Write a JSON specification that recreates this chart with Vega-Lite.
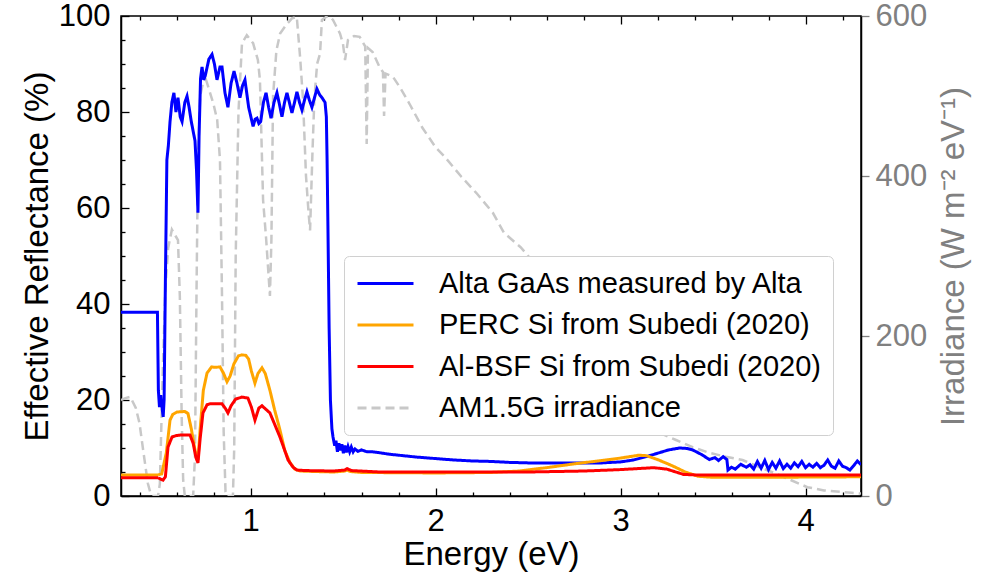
{
  "$schema": "https://vega.github.io/schema/vega-lite/v6.json",
  "autosize": {"type": "none"},
  "padding": {"left": 121, "top": 16, "right": 122, "bottom": 87},
  "width": 740,
  "height": 480,
  "config": {
    "font": "Liberation Sans",
    "view": {"stroke": "black", "strokeWidth": 1.5},
    "axis": {"grid": false, "domainColor": "black", "domainWidth": 1.5, "tickColor": "black", "tickWidth": 1.3, "labelFont": "Liberation Sans", "titleFont": "Liberation Sans", "labelFontSize": 31, "titleFontSize": 33, "titleFontWeight": "normal", "labelColor": "black", "titleColor": "black"}
  },
  "datasets": {
    "refl": [
      {"series": "Alta GaAs measured by Alta", "energy": 0.3, "r": 38.3},
      {"series": "Alta GaAs measured by Alta", "energy": 0.497, "r": 38.3},
      {"series": "Alta GaAs measured by Alta", "energy": 0.502, "r": 22},
      {"series": "Alta GaAs measured by Alta", "energy": 0.508, "r": 18.5},
      {"series": "Alta GaAs measured by Alta", "energy": 0.514, "r": 21},
      {"series": "Alta GaAs measured by Alta", "energy": 0.52, "r": 19},
      {"series": "Alta GaAs measured by Alta", "energy": 0.528, "r": 16.5},
      {"series": "Alta GaAs measured by Alta", "energy": 0.533, "r": 20},
      {"series": "Alta GaAs measured by Alta", "energy": 0.54, "r": 45},
      {"series": "Alta GaAs measured by Alta", "energy": 0.548, "r": 70},
      {"series": "Alta GaAs measured by Alta", "energy": 0.556, "r": 73},
      {"series": "Alta GaAs measured by Alta", "energy": 0.565, "r": 78},
      {"series": "Alta GaAs measured by Alta", "energy": 0.575, "r": 82},
      {"series": "Alta GaAs measured by Alta", "energy": 0.586, "r": 84},
      {"series": "Alta GaAs measured by Alta", "energy": 0.597, "r": 80},
      {"series": "Alta GaAs measured by Alta", "energy": 0.608, "r": 83},
      {"series": "Alta GaAs measured by Alta", "energy": 0.62, "r": 79},
      {"series": "Alta GaAs measured by Alta", "energy": 0.63, "r": 78},
      {"series": "Alta GaAs measured by Alta", "energy": 0.645, "r": 82},
      {"series": "Alta GaAs measured by Alta", "energy": 0.657, "r": 83.3},
      {"series": "Alta GaAs measured by Alta", "energy": 0.668, "r": 81},
      {"series": "Alta GaAs measured by Alta", "energy": 0.68, "r": 78},
      {"series": "Alta GaAs measured by Alta", "energy": 0.69, "r": 76},
      {"series": "Alta GaAs measured by Alta", "energy": 0.7, "r": 74},
      {"series": "Alta GaAs measured by Alta", "energy": 0.708, "r": 68},
      {"series": "Alta GaAs measured by Alta", "energy": 0.716, "r": 59},
      {"series": "Alta GaAs measured by Alta", "energy": 0.722, "r": 75},
      {"series": "Alta GaAs measured by Alta", "energy": 0.73, "r": 87},
      {"series": "Alta GaAs measured by Alta", "energy": 0.738, "r": 89.4},
      {"series": "Alta GaAs measured by Alta", "energy": 0.747, "r": 86.7},
      {"series": "Alta GaAs measured by Alta", "energy": 0.755, "r": 87.5},
      {"series": "Alta GaAs measured by Alta", "energy": 0.775, "r": 91},
      {"series": "Alta GaAs measured by Alta", "energy": 0.792, "r": 92},
      {"series": "Alta GaAs measured by Alta", "energy": 0.805, "r": 90},
      {"series": "Alta GaAs measured by Alta", "energy": 0.819, "r": 86.7},
      {"series": "Alta GaAs measured by Alta", "energy": 0.835, "r": 89.4},
      {"series": "Alta GaAs measured by Alta", "energy": 0.846, "r": 89.4},
      {"series": "Alta GaAs measured by Alta", "energy": 0.862, "r": 84},
      {"series": "Alta GaAs measured by Alta", "energy": 0.878, "r": 81},
      {"series": "Alta GaAs measured by Alta", "energy": 0.895, "r": 86},
      {"series": "Alta GaAs measured by Alta", "energy": 0.911, "r": 88.5},
      {"series": "Alta GaAs measured by Alta", "energy": 0.927, "r": 86},
      {"series": "Alta GaAs measured by Alta", "energy": 0.943, "r": 83},
      {"series": "Alta GaAs measured by Alta", "energy": 0.957, "r": 85.5},
      {"series": "Alta GaAs measured by Alta", "energy": 0.97, "r": 86.7},
      {"series": "Alta GaAs measured by Alta", "energy": 0.99, "r": 81},
      {"series": "Alta GaAs measured by Alta", "energy": 1.014, "r": 77},
      {"series": "Alta GaAs measured by Alta", "energy": 1.025, "r": 78.5},
      {"series": "Alta GaAs measured by Alta", "energy": 1.035, "r": 78.7},
      {"series": "Alta GaAs measured by Alta", "energy": 1.045, "r": 77.6},
      {"series": "Alta GaAs measured by Alta", "energy": 1.055, "r": 78},
      {"series": "Alta GaAs measured by Alta", "energy": 1.07, "r": 82},
      {"series": "Alta GaAs measured by Alta", "energy": 1.084, "r": 84},
      {"series": "Alta GaAs measured by Alta", "energy": 1.098, "r": 81},
      {"series": "Alta GaAs measured by Alta", "energy": 1.111, "r": 78.7},
      {"series": "Alta GaAs measured by Alta", "energy": 1.127, "r": 82},
      {"series": "Alta GaAs measured by Alta", "energy": 1.143, "r": 84},
      {"series": "Alta GaAs measured by Alta", "energy": 1.157, "r": 81.5},
      {"series": "Alta GaAs measured by Alta", "energy": 1.17, "r": 79},
      {"series": "Alta GaAs measured by Alta", "energy": 1.184, "r": 82},
      {"series": "Alta GaAs measured by Alta", "energy": 1.197, "r": 84},
      {"series": "Alta GaAs measured by Alta", "energy": 1.21, "r": 82},
      {"series": "Alta GaAs measured by Alta", "energy": 1.224, "r": 79.8},
      {"series": "Alta GaAs measured by Alta", "energy": 1.238, "r": 82},
      {"series": "Alta GaAs measured by Alta", "energy": 1.251, "r": 84.2},
      {"series": "Alta GaAs measured by Alta", "energy": 1.265, "r": 82},
      {"series": "Alta GaAs measured by Alta", "energy": 1.278, "r": 80.4},
      {"series": "Alta GaAs measured by Alta", "energy": 1.292, "r": 82.5},
      {"series": "Alta GaAs measured by Alta", "energy": 1.305, "r": 84.2},
      {"series": "Alta GaAs measured by Alta", "energy": 1.318, "r": 82.5},
      {"series": "Alta GaAs measured by Alta", "energy": 1.332, "r": 81},
      {"series": "Alta GaAs measured by Alta", "energy": 1.346, "r": 83},
      {"series": "Alta GaAs measured by Alta", "energy": 1.359, "r": 84.8},
      {"series": "Alta GaAs measured by Alta", "energy": 1.375, "r": 83.5},
      {"series": "Alta GaAs measured by Alta", "energy": 1.386, "r": 83},
      {"series": "Alta GaAs measured by Alta", "energy": 1.403, "r": 82},
      {"series": "Alta GaAs measured by Alta", "energy": 1.41, "r": 79},
      {"series": "Alta GaAs measured by Alta", "energy": 1.414, "r": 70},
      {"series": "Alta GaAs measured by Alta", "energy": 1.419, "r": 54.8},
      {"series": "Alta GaAs measured by Alta", "energy": 1.425, "r": 35},
      {"series": "Alta GaAs measured by Alta", "energy": 1.432, "r": 20},
      {"series": "Alta GaAs measured by Alta", "energy": 1.44, "r": 14},
      {"series": "Alta GaAs measured by Alta", "energy": 1.446, "r": 12.3},
      {"series": "Alta GaAs measured by Alta", "energy": 1.455, "r": 10.5},
      {"series": "Alta GaAs measured by Alta", "energy": 1.462, "r": 11.5},
      {"series": "Alta GaAs measured by Alta", "energy": 1.47, "r": 9.2},
      {"series": "Alta GaAs measured by Alta", "energy": 1.478, "r": 11},
      {"series": "Alta GaAs measured by Alta", "energy": 1.486, "r": 9.5},
      {"series": "Alta GaAs measured by Alta", "energy": 1.494, "r": 10.8},
      {"series": "Alta GaAs measured by Alta", "energy": 1.502, "r": 8.9},
      {"series": "Alta GaAs measured by Alta", "energy": 1.51, "r": 10.5},
      {"series": "Alta GaAs measured by Alta", "energy": 1.518, "r": 9.1},
      {"series": "Alta GaAs measured by Alta", "energy": 1.527, "r": 10.3},
      {"series": "Alta GaAs measured by Alta", "energy": 1.536, "r": 9.2},
      {"series": "Alta GaAs measured by Alta", "energy": 1.545, "r": 10.2},
      {"series": "Alta GaAs measured by Alta", "energy": 1.555, "r": 9.2},
      {"series": "Alta GaAs measured by Alta", "energy": 1.565, "r": 9.8},
      {"series": "Alta GaAs measured by Alta", "energy": 1.58, "r": 9.3},
      {"series": "Alta GaAs measured by Alta", "energy": 1.6, "r": 9.6},
      {"series": "Alta GaAs measured by Alta", "energy": 1.63, "r": 9.2},
      {"series": "Alta GaAs measured by Alta", "energy": 1.66, "r": 9.2},
      {"series": "Alta GaAs measured by Alta", "energy": 1.7, "r": 9.0},
      {"series": "Alta GaAs measured by Alta", "energy": 1.75, "r": 8.7},
      {"series": "Alta GaAs measured by Alta", "energy": 1.8, "r": 8.5},
      {"series": "Alta GaAs measured by Alta", "energy": 1.9, "r": 8.1},
      {"series": "Alta GaAs measured by Alta", "energy": 2.0, "r": 7.8},
      {"series": "Alta GaAs measured by Alta", "energy": 2.1, "r": 7.5},
      {"series": "Alta GaAs measured by Alta", "energy": 2.2, "r": 7.3},
      {"series": "Alta GaAs measured by Alta", "energy": 2.3, "r": 7.2},
      {"series": "Alta GaAs measured by Alta", "energy": 2.4, "r": 7.0},
      {"series": "Alta GaAs measured by Alta", "energy": 2.5, "r": 6.9},
      {"series": "Alta GaAs measured by Alta", "energy": 2.7, "r": 6.9},
      {"series": "Alta GaAs measured by Alta", "energy": 2.9, "r": 6.9},
      {"series": "Alta GaAs measured by Alta", "energy": 3.0, "r": 7.1},
      {"series": "Alta GaAs measured by Alta", "energy": 3.07, "r": 7.5},
      {"series": "Alta GaAs measured by Alta", "energy": 3.14, "r": 8.2},
      {"series": "Alta GaAs measured by Alta", "energy": 3.2, "r": 8.9},
      {"series": "Alta GaAs measured by Alta", "energy": 3.26, "r": 9.6},
      {"series": "Alta GaAs measured by Alta", "energy": 3.32, "r": 10.0},
      {"series": "Alta GaAs measured by Alta", "energy": 3.36, "r": 9.9},
      {"series": "Alta GaAs measured by Alta", "energy": 3.39, "r": 9.6},
      {"series": "Alta GaAs measured by Alta", "energy": 3.44, "r": 8.6},
      {"series": "Alta GaAs measured by Alta", "energy": 3.48, "r": 7.6},
      {"series": "Alta GaAs measured by Alta", "energy": 3.51, "r": 8.0},
      {"series": "Alta GaAs measured by Alta", "energy": 3.53, "r": 7.4},
      {"series": "Alta GaAs measured by Alta", "energy": 3.555, "r": 8.2},
      {"series": "Alta GaAs measured by Alta", "energy": 3.575, "r": 7.6},
      {"series": "Alta GaAs measured by Alta", "energy": 3.581, "r": 5.4},
      {"series": "Alta GaAs measured by Alta", "energy": 3.6, "r": 6.0},
      {"series": "Alta GaAs measured by Alta", "energy": 3.62, "r": 5.6},
      {"series": "Alta GaAs measured by Alta", "energy": 3.65, "r": 6.6},
      {"series": "Alta GaAs measured by Alta", "energy": 3.68, "r": 6.0},
      {"series": "Alta GaAs measured by Alta", "energy": 3.7, "r": 6.5},
      {"series": "Alta GaAs measured by Alta", "energy": 3.72, "r": 5.6},
      {"series": "Alta GaAs measured by Alta", "energy": 3.74, "r": 7.2},
      {"series": "Alta GaAs measured by Alta", "energy": 3.76, "r": 5.8},
      {"series": "Alta GaAs measured by Alta", "energy": 3.78, "r": 7.4},
      {"series": "Alta GaAs measured by Alta", "energy": 3.8, "r": 5.5},
      {"series": "Alta GaAs measured by Alta", "energy": 3.82, "r": 7.0},
      {"series": "Alta GaAs measured by Alta", "energy": 3.84, "r": 5.8},
      {"series": "Alta GaAs measured by Alta", "energy": 3.86, "r": 7.3},
      {"series": "Alta GaAs measured by Alta", "energy": 3.88, "r": 5.7},
      {"series": "Alta GaAs measured by Alta", "energy": 3.9, "r": 6.6},
      {"series": "Alta GaAs measured by Alta", "energy": 3.92, "r": 5.8},
      {"series": "Alta GaAs measured by Alta", "energy": 3.94, "r": 6.9},
      {"series": "Alta GaAs measured by Alta", "energy": 3.96, "r": 6.1},
      {"series": "Alta GaAs measured by Alta", "energy": 3.98, "r": 7.2},
      {"series": "Alta GaAs measured by Alta", "energy": 4.0, "r": 5.9},
      {"series": "Alta GaAs measured by Alta", "energy": 4.02, "r": 6.6},
      {"series": "Alta GaAs measured by Alta", "energy": 4.04, "r": 6.0},
      {"series": "Alta GaAs measured by Alta", "energy": 4.06, "r": 6.8},
      {"series": "Alta GaAs measured by Alta", "energy": 4.08, "r": 5.9},
      {"series": "Alta GaAs measured by Alta", "energy": 4.1, "r": 6.4},
      {"series": "Alta GaAs measured by Alta", "energy": 4.12, "r": 7.5},
      {"series": "Alta GaAs measured by Alta", "energy": 4.14, "r": 6.2},
      {"series": "Alta GaAs measured by Alta", "energy": 4.16, "r": 5.8},
      {"series": "Alta GaAs measured by Alta", "energy": 4.18, "r": 7.3},
      {"series": "Alta GaAs measured by Alta", "energy": 4.2, "r": 6.2},
      {"series": "Alta GaAs measured by Alta", "energy": 4.22, "r": 5.9},
      {"series": "Alta GaAs measured by Alta", "energy": 4.24, "r": 5.4},
      {"series": "Alta GaAs measured by Alta", "energy": 4.26, "r": 6.3},
      {"series": "Alta GaAs measured by Alta", "energy": 4.28, "r": 7.3},
      {"series": "Alta GaAs measured by Alta", "energy": 4.3, "r": 6.5},

      {"series": "PERC Si from Subedi (2020)", "energy": 0.3, "r": 4.4},
      {"series": "PERC Si from Subedi (2020)", "energy": 0.5, "r": 4.4},
      {"series": "PERC Si from Subedi (2020)", "energy": 0.52, "r": 4.6},
      {"series": "PERC Si from Subedi (2020)", "energy": 0.545, "r": 9},
      {"series": "PERC Si from Subedi (2020)", "energy": 0.565, "r": 15.8},
      {"series": "PERC Si from Subedi (2020)", "energy": 0.58, "r": 17},
      {"series": "PERC Si from Subedi (2020)", "energy": 0.603, "r": 17.5},
      {"series": "PERC Si from Subedi (2020)", "energy": 0.645, "r": 17.6},
      {"series": "PERC Si from Subedi (2020)", "energy": 0.662, "r": 17.2},
      {"series": "PERC Si from Subedi (2020)", "energy": 0.68, "r": 14},
      {"series": "PERC Si from Subedi (2020)", "energy": 0.7, "r": 9.5},
      {"series": "PERC Si from Subedi (2020)", "energy": 0.716, "r": 7.5},
      {"series": "PERC Si from Subedi (2020)", "energy": 0.728, "r": 14},
      {"series": "PERC Si from Subedi (2020)", "energy": 0.745, "r": 22},
      {"series": "PERC Si from Subedi (2020)", "energy": 0.765, "r": 25.6},
      {"series": "PERC Si from Subedi (2020)", "energy": 0.79, "r": 26.9},
      {"series": "PERC Si from Subedi (2020)", "energy": 0.81, "r": 26.8},
      {"series": "PERC Si from Subedi (2020)", "energy": 0.835, "r": 26.9},
      {"series": "PERC Si from Subedi (2020)", "energy": 0.855, "r": 25.5},
      {"series": "PERC Si from Subedi (2020)", "energy": 0.873, "r": 23.8},
      {"series": "PERC Si from Subedi (2020)", "energy": 0.89, "r": 25},
      {"series": "PERC Si from Subedi (2020)", "energy": 0.91, "r": 27.5},
      {"series": "PERC Si from Subedi (2020)", "energy": 0.935, "r": 29.2},
      {"series": "PERC Si from Subedi (2020)", "energy": 0.954, "r": 29.4},
      {"series": "PERC Si from Subedi (2020)", "energy": 0.975, "r": 29.3},
      {"series": "PERC Si from Subedi (2020)", "energy": 0.99, "r": 28.5},
      {"series": "PERC Si from Subedi (2020)", "energy": 1.005, "r": 26},
      {"series": "PERC Si from Subedi (2020)", "energy": 1.024, "r": 23.5},
      {"series": "PERC Si from Subedi (2020)", "energy": 1.04, "r": 25.5},
      {"series": "PERC Si from Subedi (2020)", "energy": 1.062, "r": 26.7},
      {"series": "PERC Si from Subedi (2020)", "energy": 1.08, "r": 25.5},
      {"series": "PERC Si from Subedi (2020)", "energy": 1.105, "r": 22},
      {"series": "PERC Si from Subedi (2020)", "energy": 1.13, "r": 18},
      {"series": "PERC Si from Subedi (2020)", "energy": 1.159, "r": 13.8},
      {"series": "PERC Si from Subedi (2020)", "energy": 1.185, "r": 9.5},
      {"series": "PERC Si from Subedi (2020)", "energy": 1.214, "r": 6.9},
      {"series": "PERC Si from Subedi (2020)", "energy": 1.24, "r": 5.6},
      {"series": "PERC Si from Subedi (2020)", "energy": 1.268, "r": 5.2},
      {"series": "PERC Si from Subedi (2020)", "energy": 1.35, "r": 5.1},
      {"series": "PERC Si from Subedi (2020)", "energy": 1.45, "r": 5.0},
      {"series": "PERC Si from Subedi (2020)", "energy": 1.51, "r": 5.2},
      {"series": "PERC Si from Subedi (2020)", "energy": 1.522, "r": 5.4},
      {"series": "PERC Si from Subedi (2020)", "energy": 1.54, "r": 5.1},
      {"series": "PERC Si from Subedi (2020)", "energy": 1.6, "r": 4.9},
      {"series": "PERC Si from Subedi (2020)", "energy": 2.0, "r": 4.8},
      {"series": "PERC Si from Subedi (2020)", "energy": 2.3, "r": 4.9},
      {"series": "PERC Si from Subedi (2020)", "energy": 2.45, "r": 5.2},
      {"series": "PERC Si from Subedi (2020)", "energy": 2.6, "r": 5.9},
      {"series": "PERC Si from Subedi (2020)", "energy": 2.75, "r": 6.7},
      {"series": "PERC Si from Subedi (2020)", "energy": 2.9, "r": 7.4},
      {"series": "PERC Si from Subedi (2020)", "energy": 3.0, "r": 7.9},
      {"series": "PERC Si from Subedi (2020)", "energy": 3.1, "r": 8.5},
      {"series": "PERC Si from Subedi (2020)", "energy": 3.14, "r": 8.4},
      {"series": "PERC Si from Subedi (2020)", "energy": 3.2, "r": 7.6},
      {"series": "PERC Si from Subedi (2020)", "energy": 3.28, "r": 6.3},
      {"series": "PERC Si from Subedi (2020)", "energy": 3.35, "r": 5.0},
      {"series": "PERC Si from Subedi (2020)", "energy": 3.42, "r": 4.1},
      {"series": "PERC Si from Subedi (2020)", "energy": 3.5, "r": 3.9},
      {"series": "PERC Si from Subedi (2020)", "energy": 3.8, "r": 3.9},
      {"series": "PERC Si from Subedi (2020)", "energy": 4.3, "r": 4.0},

      {"series": "Al-BSF Si from Subedi (2020)", "energy": 0.3, "r": 3.8},
      {"series": "Al-BSF Si from Subedi (2020)", "energy": 0.5, "r": 3.8},
      {"series": "Al-BSF Si from Subedi (2020)", "energy": 0.515, "r": 3.5},
      {"series": "Al-BSF Si from Subedi (2020)", "energy": 0.527, "r": 3.3},
      {"series": "Al-BSF Si from Subedi (2020)", "energy": 0.54, "r": 4},
      {"series": "Al-BSF Si from Subedi (2020)", "energy": 0.554, "r": 10.2},
      {"series": "Al-BSF Si from Subedi (2020)", "energy": 0.576, "r": 12.3},
      {"series": "Al-BSF Si from Subedi (2020)", "energy": 0.6, "r": 12.6},
      {"series": "Al-BSF Si from Subedi (2020)", "energy": 0.62, "r": 12.7},
      {"series": "Al-BSF Si from Subedi (2020)", "energy": 0.673, "r": 12.7},
      {"series": "Al-BSF Si from Subedi (2020)", "energy": 0.69, "r": 11},
      {"series": "Al-BSF Si from Subedi (2020)", "energy": 0.705, "r": 8},
      {"series": "Al-BSF Si from Subedi (2020)", "energy": 0.716, "r": 6.9},
      {"series": "Al-BSF Si from Subedi (2020)", "energy": 0.728, "r": 12},
      {"series": "Al-BSF Si from Subedi (2020)", "energy": 0.743, "r": 17.3},
      {"series": "Al-BSF Si from Subedi (2020)", "energy": 0.765, "r": 19},
      {"series": "Al-BSF Si from Subedi (2020)", "energy": 0.781, "r": 19.2},
      {"series": "Al-BSF Si from Subedi (2020)", "energy": 0.846, "r": 19.2},
      {"series": "Al-BSF Si from Subedi (2020)", "energy": 0.865, "r": 18.2},
      {"series": "Al-BSF Si from Subedi (2020)", "energy": 0.878, "r": 17.3},
      {"series": "Al-BSF Si from Subedi (2020)", "energy": 0.895, "r": 18.8},
      {"series": "Al-BSF Si from Subedi (2020)", "energy": 0.92, "r": 20.2},
      {"series": "Al-BSF Si from Subedi (2020)", "energy": 0.954, "r": 20.6},
      {"series": "Al-BSF Si from Subedi (2020)", "energy": 0.986, "r": 20.4},
      {"series": "Al-BSF Si from Subedi (2020)", "energy": 1.005, "r": 18.5},
      {"series": "Al-BSF Si from Subedi (2020)", "energy": 1.024, "r": 15.8},
      {"series": "Al-BSF Si from Subedi (2020)", "energy": 1.045, "r": 18.3},
      {"series": "Al-BSF Si from Subedi (2020)", "energy": 1.062, "r": 18.8},
      {"series": "Al-BSF Si from Subedi (2020)", "energy": 1.085, "r": 18},
      {"series": "Al-BSF Si from Subedi (2020)", "energy": 1.105, "r": 17.3},
      {"series": "Al-BSF Si from Subedi (2020)", "energy": 1.13, "r": 15},
      {"series": "Al-BSF Si from Subedi (2020)", "energy": 1.159, "r": 12.3},
      {"series": "Al-BSF Si from Subedi (2020)", "energy": 1.185, "r": 9.5},
      {"series": "Al-BSF Si from Subedi (2020)", "energy": 1.203, "r": 7.5},
      {"series": "Al-BSF Si from Subedi (2020)", "energy": 1.23, "r": 6},
      {"series": "Al-BSF Si from Subedi (2020)", "energy": 1.251, "r": 5.4},
      {"series": "Al-BSF Si from Subedi (2020)", "energy": 1.3, "r": 5.3},
      {"series": "Al-BSF Si from Subedi (2020)", "energy": 1.45, "r": 5.2},
      {"series": "Al-BSF Si from Subedi (2020)", "energy": 1.51, "r": 5.4},
      {"series": "Al-BSF Si from Subedi (2020)", "energy": 1.522, "r": 5.7},
      {"series": "Al-BSF Si from Subedi (2020)", "energy": 1.545, "r": 5.3},
      {"series": "Al-BSF Si from Subedi (2020)", "energy": 1.7, "r": 5.0},
      {"series": "Al-BSF Si from Subedi (2020)", "energy": 2.0, "r": 5.0},
      {"series": "Al-BSF Si from Subedi (2020)", "energy": 2.5, "r": 5.0},
      {"series": "Al-BSF Si from Subedi (2020)", "energy": 2.8, "r": 5.2},
      {"series": "Al-BSF Si from Subedi (2020)", "energy": 3.0, "r": 5.5},
      {"series": "Al-BSF Si from Subedi (2020)", "energy": 3.18, "r": 5.9},
      {"series": "Al-BSF Si from Subedi (2020)", "energy": 3.25, "r": 5.6},
      {"series": "Al-BSF Si from Subedi (2020)", "energy": 3.34, "r": 4.5},
      {"series": "Al-BSF Si from Subedi (2020)", "energy": 3.4, "r": 4.4},
      {"series": "Al-BSF Si from Subedi (2020)", "energy": 4.3, "r": 4.4}
    ],
    "irr": [
      {"series": "AM1.5G irradiance", "energy": 0.3, "w": 120},
      {"series": "AM1.5G irradiance", "energy": 0.32, "w": 122},
      {"series": "AM1.5G irradiance", "energy": 0.35, "w": 124},
      {"series": "AM1.5G irradiance", "energy": 0.38, "w": 110},
      {"series": "AM1.5G irradiance", "energy": 0.4, "w": 91},
      {"series": "AM1.5G irradiance", "energy": 0.42, "w": 57},
      {"series": "AM1.5G irradiance", "energy": 0.445, "w": 16},
      {"series": "AM1.5G irradiance", "energy": 0.46, "w": 3},
      {"series": "AM1.5G irradiance", "energy": 0.47, "w": 0},
      {"series": "AM1.5G irradiance", "energy": 0.5, "w": 0},
      {"series": "AM1.5G irradiance", "energy": 0.51, "w": 15},
      {"series": "AM1.5G irradiance", "energy": 0.525, "w": 150},
      {"series": "AM1.5G irradiance", "energy": 0.54, "w": 260},
      {"series": "AM1.5G irradiance", "energy": 0.555, "w": 310},
      {"series": "AM1.5G irradiance", "energy": 0.575, "w": 333},
      {"series": "AM1.5G irradiance", "energy": 0.595, "w": 325},
      {"series": "AM1.5G irradiance", "energy": 0.608, "w": 320},
      {"series": "AM1.5G irradiance", "energy": 0.618, "w": 250},
      {"series": "AM1.5G irradiance", "energy": 0.628, "w": 100},
      {"series": "AM1.5G irradiance", "energy": 0.636, "w": 20},
      {"series": "AM1.5G irradiance", "energy": 0.645, "w": 0},
      {"series": "AM1.5G irradiance", "energy": 0.69, "w": 0},
      {"series": "AM1.5G irradiance", "energy": 0.7, "w": 50},
      {"series": "AM1.5G irradiance", "energy": 0.708, "w": 250},
      {"series": "AM1.5G irradiance", "energy": 0.716, "w": 420},
      {"series": "AM1.5G irradiance", "energy": 0.728, "w": 500},
      {"series": "AM1.5G irradiance", "energy": 0.743, "w": 516},
      {"series": "AM1.5G irradiance", "energy": 0.76, "w": 520},
      {"series": "AM1.5G irradiance", "energy": 0.78, "w": 505},
      {"series": "AM1.5G irradiance", "energy": 0.8, "w": 490},
      {"series": "AM1.5G irradiance", "energy": 0.82, "w": 470},
      {"series": "AM1.5G irradiance", "energy": 0.835, "w": 420},
      {"series": "AM1.5G irradiance", "energy": 0.846, "w": 250},
      {"series": "AM1.5G irradiance", "energy": 0.855, "w": 80},
      {"series": "AM1.5G irradiance", "energy": 0.865, "w": 5},
      {"series": "AM1.5G irradiance", "energy": 0.87, "w": 0},
      {"series": "AM1.5G irradiance", "energy": 0.905, "w": 0},
      {"series": "AM1.5G irradiance", "energy": 0.912, "w": 60},
      {"series": "AM1.5G irradiance", "energy": 0.92, "w": 300},
      {"series": "AM1.5G irradiance", "energy": 0.935, "w": 480},
      {"series": "AM1.5G irradiance", "energy": 0.954, "w": 566},
      {"series": "AM1.5G irradiance", "energy": 0.98, "w": 576},
      {"series": "AM1.5G irradiance", "energy": 1.014, "w": 566},
      {"series": "AM1.5G irradiance", "energy": 1.04, "w": 545},
      {"series": "AM1.5G irradiance", "energy": 1.051, "w": 520},
      {"series": "AM1.5G irradiance", "energy": 1.06, "w": 440},
      {"series": "AM1.5G irradiance", "energy": 1.068, "w": 370},
      {"series": "AM1.5G irradiance", "energy": 1.085, "w": 320},
      {"series": "AM1.5G irradiance", "energy": 1.105, "w": 250},
      {"series": "AM1.5G irradiance", "energy": 1.113, "w": 320},
      {"series": "AM1.5G irradiance", "energy": 1.122, "w": 500},
      {"series": "AM1.5G irradiance", "energy": 1.14, "w": 557},
      {"series": "AM1.5G irradiance", "energy": 1.16, "w": 578},
      {"series": "AM1.5G irradiance", "energy": 1.19, "w": 588},
      {"series": "AM1.5G irradiance", "energy": 1.224, "w": 597},
      {"series": "AM1.5G irradiance", "energy": 1.25, "w": 599},
      {"series": "AM1.5G irradiance", "energy": 1.268, "w": 549},
      {"series": "AM1.5G irradiance", "energy": 1.284, "w": 495},
      {"series": "AM1.5G irradiance", "energy": 1.3, "w": 400},
      {"series": "AM1.5G irradiance", "energy": 1.313, "w": 357},
      {"series": "AM1.5G irradiance", "energy": 1.322, "w": 332},
      {"series": "AM1.5G irradiance", "energy": 1.335, "w": 430},
      {"series": "AM1.5G irradiance", "energy": 1.345, "w": 495},
      {"series": "AM1.5G irradiance", "energy": 1.36, "w": 540},
      {"series": "AM1.5G irradiance", "energy": 1.376, "w": 553},
      {"series": "AM1.5G irradiance", "energy": 1.386, "w": 595},
      {"series": "AM1.5G irradiance", "energy": 1.41, "w": 599},
      {"series": "AM1.5G irradiance", "energy": 1.43, "w": 599},
      {"series": "AM1.5G irradiance", "energy": 1.446, "w": 595},
      {"series": "AM1.5G irradiance", "energy": 1.484, "w": 578},
      {"series": "AM1.5G irradiance", "energy": 1.5, "w": 565},
      {"series": "AM1.5G irradiance", "energy": 1.511, "w": 545},
      {"series": "AM1.5G irradiance", "energy": 1.527, "w": 570},
      {"series": "AM1.5G irradiance", "energy": 1.56, "w": 575},
      {"series": "AM1.5G irradiance", "energy": 1.59, "w": 574},
      {"series": "AM1.5G irradiance", "energy": 1.62, "w": 562},
      {"series": "AM1.5G irradiance", "energy": 1.628, "w": 440},
      {"series": "AM1.5G irradiance", "energy": 1.635, "w": 560},
      {"series": "AM1.5G irradiance", "energy": 1.66, "w": 555},
      {"series": "AM1.5G irradiance", "energy": 1.7, "w": 535},
      {"series": "AM1.5G irradiance", "energy": 1.716, "w": 530},
      {"series": "AM1.5G irradiance", "energy": 1.722, "w": 475},
      {"series": "AM1.5G irradiance", "energy": 1.73, "w": 528},
      {"series": "AM1.5G irradiance", "energy": 1.77, "w": 524},
      {"series": "AM1.5G irradiance", "energy": 1.81, "w": 510},
      {"series": "AM1.5G irradiance", "energy": 1.86, "w": 490},
      {"series": "AM1.5G irradiance", "energy": 1.93, "w": 460},
      {"series": "AM1.5G irradiance", "energy": 2.0, "w": 436},
      {"series": "AM1.5G irradiance", "energy": 2.05, "w": 424},
      {"series": "AM1.5G irradiance", "energy": 2.14, "w": 399},
      {"series": "AM1.5G irradiance", "energy": 2.22, "w": 379},
      {"series": "AM1.5G irradiance", "energy": 2.31, "w": 354},
      {"series": "AM1.5G irradiance", "energy": 2.37, "w": 329},
      {"series": "AM1.5G irradiance", "energy": 2.46, "w": 311},
      {"series": "AM1.5G irradiance", "energy": 2.52, "w": 295},
      {"series": "AM1.5G irradiance", "energy": 2.58, "w": 266},
      {"series": "AM1.5G irradiance", "energy": 2.67, "w": 245},
      {"series": "AM1.5G irradiance", "energy": 2.76, "w": 224},
      {"series": "AM1.5G irradiance", "energy": 2.85, "w": 204},
      {"series": "AM1.5G irradiance", "energy": 2.94, "w": 182},
      {"series": "AM1.5G irradiance", "energy": 3.03, "w": 161},
      {"series": "AM1.5G irradiance", "energy": 3.08, "w": 132},
      {"series": "AM1.5G irradiance", "energy": 3.14, "w": 107},
      {"series": "AM1.5G irradiance", "energy": 3.21, "w": 79},
      {"series": "AM1.5G irradiance", "energy": 3.3, "w": 70},
      {"series": "AM1.5G irradiance", "energy": 3.39, "w": 61},
      {"series": "AM1.5G irradiance", "energy": 3.48, "w": 54},
      {"series": "AM1.5G irradiance", "energy": 3.57, "w": 49},
      {"series": "AM1.5G irradiance", "energy": 3.66, "w": 45},
      {"series": "AM1.5G irradiance", "energy": 3.75, "w": 36},
      {"series": "AM1.5G irradiance", "energy": 3.83, "w": 29},
      {"series": "AM1.5G irradiance", "energy": 3.92, "w": 20},
      {"series": "AM1.5G irradiance", "energy": 4.01, "w": 11},
      {"series": "AM1.5G irradiance", "energy": 4.1, "w": 7},
      {"series": "AM1.5G irradiance", "energy": 4.25, "w": 4},
      {"series": "AM1.5G irradiance", "energy": 4.3, "w": 3}
    ]
  },
  "layer": [
    {
      "data": {"name": "irr"},
      "mark": {"type": "line", "strokeWidth": 2.5, "clip": true},
      "encoding": {
        "x": {"field": "energy", "type": "quantitative", "scale": {"domain": [0.3, 4.3], "nice": false, "zero": false},
          "axis": {"orient": "top", "title": null, "labels": false, "domain": false,
            "values": [0.4,0.6,0.8,1,1.2,1.4,1.6,1.8,2,2.2,2.4,2.6,2.8,3,3.2,3.4,3.6,3.8,4,4.2],
            "tickSize": {"condition": {"test": "abs(datum.value - round(datum.value)) < 0.01", "value": -8}, "value": -4}}},
        "y": {"field": "w", "type": "quantitative", "scale": {"domain": [0, 600], "nice": false},
          "axis": {"orient": "right", "values": [0, 200, 400, 600], "tickSize": 8, "tickColor": "#808080", "labelColor": "#808080", "titleColor": "#808080", "labelPadding": 6, "title": "Irradiance (W m⁻² eV⁻¹)", "titleAngle": 270, "titlePadding": 44, "domainColor": "black"}},
        "color": {"field": "series", "type": "nominal"},
        "strokeDash": {"field": "series", "type": "nominal"}
      }
    },
    {
      "data": {"name": "refl"},
      "mark": {"type": "line", "strokeWidth": 3, "clip": true},
      "encoding": {
        "x": {"field": "energy", "type": "quantitative", "scale": {"domain": [0.3, 4.3], "nice": false, "zero": false},
          "axis": {"orient": "bottom", "title": "Energy (eV)", "titlePadding": 2, "labelPadding": 18,
            "values": [0.4,0.6,0.8,1,1.2,1.4,1.6,1.8,2,2.2,2.4,2.6,2.8,3,3.2,3.4,3.6,3.8,4,4.2],
            "labelExpr": "abs(datum.value - round(datum.value)) < 0.01 ? format(datum.value, 'd') : ''",
            "tickSize": {"condition": {"test": "abs(datum.value - round(datum.value)) < 0.01", "value": -8}, "value": -4}}},
        "y": {"field": "r", "type": "quantitative", "scale": {"domain": [0, 100], "nice": false},
          "axis": {"orient": "left", "title": "Effective Reflectance (%)", "titlePadding": 4, "labelPadding": 19,
            "values": [0,5,10,15,20,25,30,35,40,45,50,55,60,65,70,75,80,85,90,95,100],
            "labelExpr": "datum.value % 20 === 0 ? datum.label : ''",
            "tickSize": {"condition": {"test": "datum.value % 20 === 0", "value": -8}, "value": -4}}},
        "color": {"field": "series", "type": "nominal",
          "scale": {"domain": ["Alta GaAs measured by Alta", "PERC Si from Subedi (2020)", "Al-BSF Si from Subedi (2020)", "AM1.5G irradiance"], "range": ["#0000ff", "#ffa500", "#ff0000", "#c8c8c8"]},
          "legend": {"title": null, "orient": "none", "legendX": 223, "legendY": 240, "symbolType": "M-2,0H2", "symbolSize": 784, "symbolOffset": 14, "symbolStrokeWidth": 3, "labelFontSize": 29, "labelFont": "Liberation Sans", "labelOffset": 38, "rowPadding": 10.5, "padding": 12, "fillColor": "white", "strokeColor": "#d0d0d0", "cornerRadius": 5, "labelLimit": 600}},
        "strokeDash": {"field": "series", "type": "nominal",
          "scale": {"domain": ["Alta GaAs measured by Alta", "PERC Si from Subedi (2020)", "Al-BSF Si from Subedi (2020)", "AM1.5G irradiance"], "range": [[1, 0], [1, 0], [1, 0], [9, 5]]},
          "legend": {"title": null, "orient": "none", "legendX": 223, "legendY": 240}}
      }
    }
  ],
  "resolve": {"scale": {"y": "independent"}, "axis": {"x": "independent"}}
}
